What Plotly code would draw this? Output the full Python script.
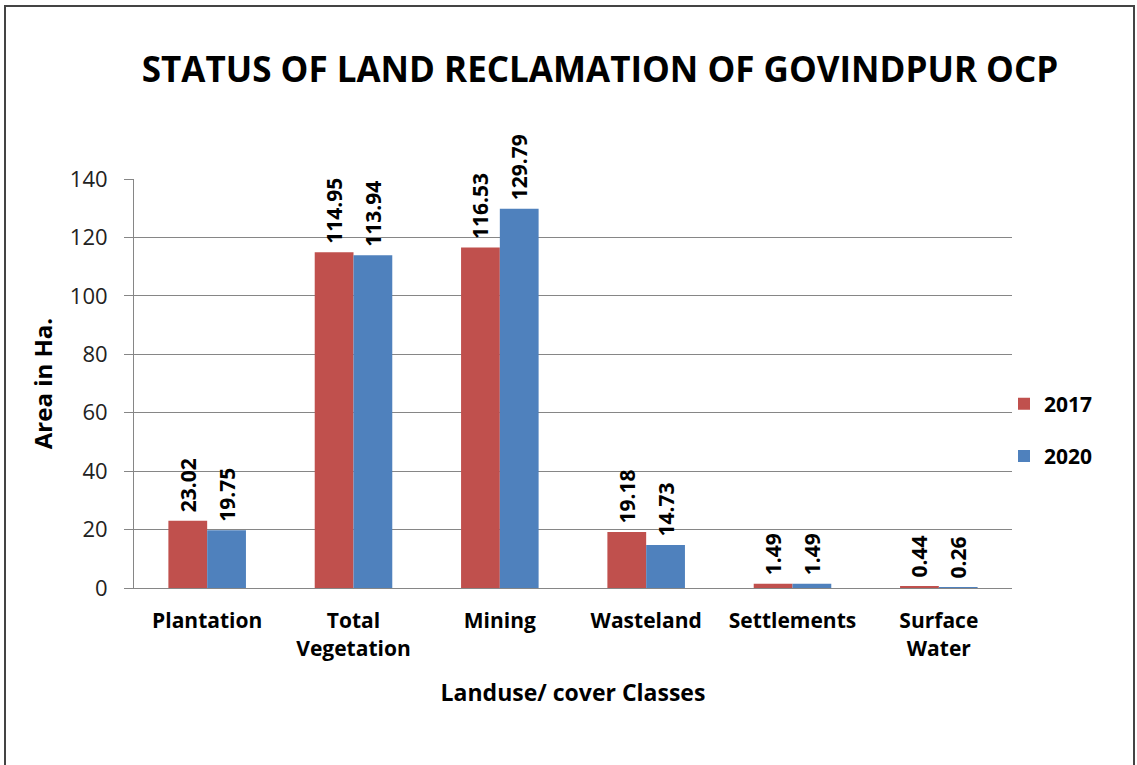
import plotly.graph_objects as go

categories = ["Plantation", "Total<br>Vegetation", "Mining", "Wasteland", "Settlements", "Surface<br>Water"]
values_2017 = [23.02, 114.95, 116.53, 19.18, 1.49, 0.44]
values_2020 = [19.75, 113.94, 129.79, 14.73, 1.49, 0.26]
series_names = ["2017", "2020"]
y_ticks = [0, 20, 40, 60, 80, 100, 120, 140]

W, H = 1137, 765
L, R, T, B = 134, 125, 179, 177
pw, ph = W - L - R, H - T - B

def px_x(p):
    return (p - L) / pw

def px_y(p):
    return (H - B - p) / ph

FONT = "Open Sans"
colors = ["#C0504D", "#4F81BD"]
LABEL_SIZE = 21

fig = go.Figure()
for name, vals, col in zip(series_names, [values_2017, values_2020], colors):
    fig.add_trace(go.Bar(
        x=categories, y=vals, name=name, legendgroup=name,
        marker=dict(color=col, line=dict(width=0)),
        text=["\u00a0" + f"{v:.2f}" for v in vals],
        textposition="outside", textangle=-90,
        textfont=dict(family=FONT, size=LABEL_SIZE, color="black", weight="bold"),
        cliponaxis=False,
    ))

fig.update_layout(
    width=W, height=H,
    margin=dict(l=L, r=R, t=T, b=B),
    paper_bgcolor="white", plot_bgcolor="white",
    barmode="group", bargap=0.47, bargroupgap=0,
    title=dict(text="<b>STATUS OF LAND RECLAMATION OF GOVINDPUR OCP</b>",
               x=600 / W, xref="container", xanchor="center",
               y=1 - 70 / H, yref="container", yanchor="middle",
               font=dict(family=FONT, size=35, color="black")),
    font=dict(family=FONT, color="black"),
    legend=dict(x=px_x(1004), y=px_y(430), xanchor="left", yanchor="middle",
                font=dict(family=FONT, size=21, color="black", weight="bold"),
                tracegroupgap=22, itemwidth=30, bgcolor="rgba(0,0,0,0)"),
    showlegend=True,
    uniformtext=dict(mode="show", minsize=LABEL_SIZE),
)
fig.update_xaxes(
    showline=True, linecolor="#868686", linewidth=1,
    ticks="", ticklabelstandoff=14,
    tickfont=dict(family=FONT, size=21, color="black", weight="bold"),
    title=dict(text="<b>Landuse/ cover Classes</b>", font=dict(family=FONT, size=23, color="black"),
               standoff=24),
)
fig.update_yaxes(
    range=[0, 140], tickvals=y_ticks, showgrid=True, gridcolor="#868686", gridwidth=1,
    showline=True, linecolor="#868686", linewidth=1, zeroline=False,
    ticks="outside", ticklen=9, tickcolor="#868686", ticklabelstandoff=12,
    tickfont=dict(family=FONT, size=22, color="#222222"),
    title=dict(text="<b>Area in Ha.</b>", font=dict(family=FONT, size=24, color="black"),
               standoff=10),
)
fig.add_shape(type="rect", xref="paper", yref="paper",
              x0=px_x(5), x1=px_x(1134), y0=px_y(6), y1=px_y(775),
              line=dict(color="#444444", width=2), fillcolor="rgba(0,0,0,0)", layer="above")

fig.write_html("out.html", config={"displayModeBar": False},
               post_script="document.body.style.margin='0';")
